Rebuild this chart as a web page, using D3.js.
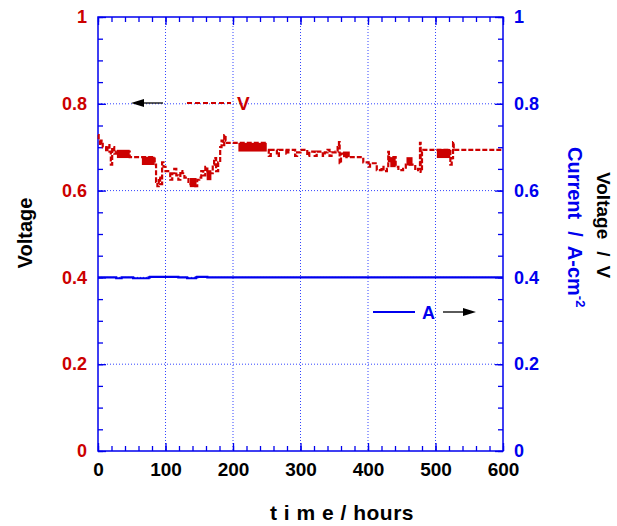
<!DOCTYPE html>
<html><head><meta charset="utf-8">
<script src="https://cdn.jsdelivr.net/npm/d3@7"></script>
<style>
html,body{margin:0;padding:0;background:#fff;}
svg text{font-family:"Liberation Sans",Arial,sans-serif;font-weight:bold;}
</style></head>
<body><svg id="c" width="617" height="526"></svg>
<script>
// ---- data ----
const xTicks = [0,100,200,300,400,500,600];
const yTicks = [0,0.2,0.4,0.6,0.8,1];
const yTickLabels = ["0","0.2","0.4","0.6","0.8","1"];
// voltage trace (time h, V)
const voltT = [0,1,3,5,7,10,12,14,17,19,21,24,27,47,65,84,86,88,90,92,95,97,100,104,107,110,113,116,119,122,125,128,131,134,137,140,147,150,153,156,159,162,170,172,175,178,181,183,185,187,189,191,206,247,
 250,253,256,262,265,268,276,279,282,289,292,295,300,307,310,313,318,321,324,330,333,336,340,343,346,352,355,357,358,360,368,390,393,398,401,403,412,413,420,423,428,430,431,433,441,445,452,456,470,474,477,478,480,482,500,522,524,526,527,600];
const voltV = [0.728,0.715,0.705,0.715,0.70,0.70,0.69,0.705,0.69,0.66,0.70,0.685,0.69,0.677,0.677,0.66,0.62,0.61,0.63,0.615,0.665,0.655,0.645,0.64,0.625,0.64,0.65,0.635,0.625,0.645,0.64,0.63,0.63,0.62,0.615,0.61,0.625,0.63,0.645,0.635,0.655,0.64,0.66,0.675,0.645,0.665,0.70,0.715,0.705,0.728,0.715,0.71,0.71,0.694,
 0.694,0.68,0.694,0.694,0.68,0.694,0.694,0.685,0.694,0.694,0.68,0.688,0.694,0.694,0.68,0.69,0.69,0.68,0.69,0.69,0.68,0.688,0.694,0.68,0.688,0.69,0.70,0.712,0.663,0.685,0.677,0.677,0.665,0.665,0.655,0.663,0.663,0.647,0.655,0.645,0.65,0.689,0.665,0.677,0.655,0.647,0.65,0.66,0.647,0.65,0.71,0.643,0.69,0.694,0.694,0.66,0.675,0.712,0.694,0.694];
// rapidly oscillating stretches, drawn filled: [t0, t1, vLow, vHigh]
const voltBands = [[28,47,0.675,0.694],[65,84,0.659,0.678],[136,146,0.608,0.629],[161,168,0.624,0.647],[208,250,0.690,0.710],[363,373,0.677,0.690],[433,441,0.654,0.677],[457,466,0.658,0.677],[502,522,0.675,0.696]];
// current density (time h, A/cm2)
const curT = [0,25,27,33,35,50,52,75,77,117,119,130,132,145,147,160,162,258,600];
const curA = [0.4,0.4,0.398,0.398,0.4,0.4,0.398,0.4,0.401,0.401,0.4,0.4,0.398,0.4,0.401,0.401,0.4,0.4,0.4];

// ---- layout ----
const L=98, T=17, W=405, H=434;
const RED="#cc0000", BLUE="#0000ee";
const svg=d3.select("#c");
const x=d3.scaleLinear().domain([0,600]).range([L,L+W]);
const y=d3.scaleLinear().domain([0,1]).range([T+H,T]);

// grid
const g=svg.append("g");
g.selectAll(".gx").data(xTicks.slice(1,-1)).join("line")
 .attr("x1",d=>x(d)).attr("x2",d=>x(d)).attr("y1",T).attr("y2",T+H)
 .attr("stroke","#3344ff").attr("stroke-width",1).attr("stroke-dasharray","1,2");
g.selectAll(".gy").data(yTicks.slice(1,-1)).join("line")
 .attr("y1",d=>y(d)).attr("y2",d=>y(d)).attr("x1",L).attr("x2",L+W)
 .attr("stroke","#3344ff").attr("stroke-width",1).attr("stroke-dasharray","1,2");

// axes
const xMinor=d3.range(0,601,20), yMinor=d3.range(0,1.0001,0.05);
function styleAxis(sel){sel.select(".domain").remove();sel.selectAll("line").attr("stroke",BLUE).attr("stroke-width",1.3);}
svg.append("g").attr("transform",`translate(0,${T+H})`).call(d3.axisBottom(x).tickValues(xMinor).tickSize(-5).tickFormat("")).call(styleAxis);
svg.append("g").attr("transform",`translate(0,${T})`).call(d3.axisTop(x).tickValues(xMinor).tickSize(-5).tickFormat("")).call(styleAxis);
svg.append("g").attr("transform",`translate(${L},0)`).call(d3.axisLeft(y).tickValues(yMinor).tickSize(-5).tickFormat("")).call(styleAxis);
svg.append("g").attr("transform",`translate(${L+W},0)`).call(d3.axisRight(y).tickValues(yMinor).tickSize(-5).tickFormat("")).call(styleAxis);
// major ticks with labels
const xb=svg.append("g").attr("transform",`translate(0,${T+H})`).call(d3.axisBottom(x).tickValues(xTicks).tickSize(-8).tickPadding(12).tickFormat(d3.format("d"))).call(styleAxis);
xb.selectAll("text").attr("fill","#000").attr("font-size",19).attr("font-family","Liberation Sans, Arial").attr("font-weight","bold");
const yl=svg.append("g").attr("transform",`translate(${L},0)`).call(d3.axisLeft(y).tickValues(yTicks).tickSize(-8).tickPadding(11).tickFormat((d,i)=>yTickLabels[i])).call(styleAxis);
yl.selectAll("text").attr("fill",RED).attr("font-size",18).attr("font-family","Liberation Sans, Arial").attr("font-weight","bold");
const yr=svg.append("g").attr("transform",`translate(${L+W},0)`).call(d3.axisRight(y).tickValues(yTicks).tickSize(-8).tickPadding(11).tickFormat((d,i)=>yTickLabels[i])).call(styleAxis);
yr.selectAll("text").attr("fill",BLUE).attr("font-size",18).attr("font-family","Liberation Sans, Arial").attr("font-weight","bold");
svg.append("g").attr("transform",`translate(0,${T})`).call(d3.axisTop(x).tickValues(xTicks).tickSize(-8).tickFormat("")).call(styleAxis);

// frame
svg.append("rect").attr("x",L).attr("y",T).attr("width",W).attr("height",H).attr("fill","none").attr("stroke",BLUE).attr("stroke-width",1.5);

// current line
const curData=curT.map((t,i)=>[t,curA[i]]);
svg.append("path").datum(curData).attr("fill","none").attr("stroke",BLUE).attr("stroke-width",2.2)
 .attr("d",d3.line().x(d=>x(d[0])).y(d=>y(d[1])).curve(d3.curveStepAfter));

// voltage bands & trace
svg.append("g").selectAll("rect").data(voltBands).join("rect")
 .attr("x",d=>x(d[0])).attr("width",d=>x(d[1])-x(d[0]))
 .attr("y",d=>y(d[3])).attr("height",d=>y(d[2])-y(d[3])).attr("fill",RED);
const voltData=voltT.map((t,i)=>[t,voltV[i]]);
svg.append("path").datum(voltData).attr("fill","none").attr("stroke",RED).attr("stroke-width",2.2)
 .attr("stroke-dasharray","5,2")
 .attr("d",d3.line().x(d=>x(d[0])).y(d=>y(d[1])).curve(d3.curveStepAfter));

// legends
svg.append("line").attr("x1",142).attr("x2",163).attr("y1",103).attr("y2",103).attr("stroke","#000").attr("stroke-width",1.3);
svg.append("path").attr("d","M131,103 L144,99 L144,107 Z").attr("fill","#000");
svg.append("line").attr("x1",187).attr("x2",231).attr("y1",103).attr("y2",103).attr("stroke",RED).attr("stroke-width",2).attr("stroke-dasharray","5,3");
svg.append("text").attr("x",237).attr("y",110).attr("fill",RED).attr("font-size",19).text("V");

svg.append("line").attr("x1",373).attr("x2",415).attr("y1",312).attr("y2",312).attr("stroke",BLUE).attr("stroke-width",2);
svg.append("text").attr("x",422).attr("y",319).attr("fill",BLUE).attr("font-size",18).text("A");
svg.append("line").attr("x1",443).attr("x2",465).attr("y1",312).attr("y2",312).attr("stroke","#000").attr("stroke-width",1.3);
svg.append("path").attr("d","M476,312 L463,308 L463,316 Z").attr("fill","#000");

// axis titles
svg.append("text").attr("transform","translate(32,233) rotate(-90)").attr("text-anchor","middle").attr("font-size",20).attr("fill","#000").text("Voltage");
svg.append("text").attr("x",342).attr("y",520).attr("text-anchor","middle").attr("font-size",21).attr("fill","#000").attr("letter-spacing",0.5).attr("xml:space","preserve").text("t i m e / hours");
const rt=svg.append("text").attr("transform","translate(568,147) rotate(90)").attr("text-anchor","start").attr("font-size",20).attr("fill",BLUE);
rt.append("tspan").text("Current");
rt.append("tspan").attr("dx",12).text("/");
rt.append("tspan").attr("dx",9).text("A-cm");
rt.append("tspan").attr("dy",-8).attr("font-size",13).text("-2");
const vt=svg.append("text").attr("transform","translate(597,172) rotate(90)").attr("text-anchor","start").attr("font-size",19).attr("fill","#000");
vt.append("tspan").text("Voltage");
vt.append("tspan").attr("dx",12).text("/");
vt.append("tspan").attr("dx",9).text("V");
</script></body></html>
